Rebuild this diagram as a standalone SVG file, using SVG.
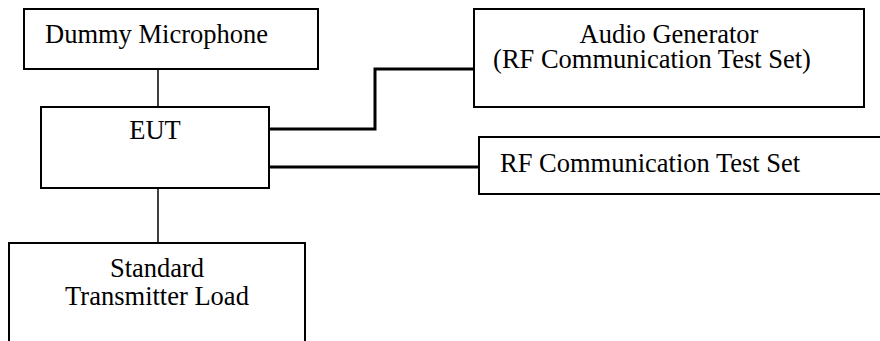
<svg xmlns="http://www.w3.org/2000/svg" width="880" height="341" viewBox="0 0 880 341">
<style>
.box{fill:#fff;stroke:#000;stroke-width:2}
.t{font-family:"Liberation Serif","Times New Roman",serif;font-size:26.5px;fill:#000}
.c{fill:none;stroke:#000}
</style>
<rect width="880" height="341" fill="#fff"/>
<g id="connectors">
<line class="c" x1="158" y1="69" x2="158" y2="107" stroke-width="1.5"/>
<line class="c" x1="158" y1="188" x2="158" y2="243" stroke-width="1.5"/>
<polyline class="c" points="269,129 375,129 375,69 474,69" stroke-width="3"/>
<line class="c" x1="269" y1="167" x2="479" y2="167" stroke-width="3"/>
</g>
<g id="mic">
<rect class="box" x="24" y="9" width="294" height="60"/>
<text class="t" x="45" y="43">Dummy Microphone</text>
</g>
<g id="eut">
<rect class="box" x="41" y="107" width="228" height="81"/>
<text class="t" x="155" y="139" text-anchor="middle">EUT</text>
</g>
<g id="load">
<path class="box" d="M9,345 V243 H305 V345"/>
<text class="t" x="157" y="277" text-anchor="middle">Standard</text>
<text class="t" x="157" y="305" text-anchor="middle">Transmitter Load</text>
</g>
<g id="audio">
<rect class="box" x="474" y="9" width="390" height="98"/>
<text class="t" x="669" y="43" text-anchor="middle">Audio Generator</text>
<text class="t" x="652" y="68" text-anchor="middle">(RF Communication Test Set)</text>
</g>
<g id="rf">
<rect class="box" x="479" y="137" width="420" height="57"/>
<text class="t" x="500" y="172">RF Communication Test Set</text>
</g>
</svg>
